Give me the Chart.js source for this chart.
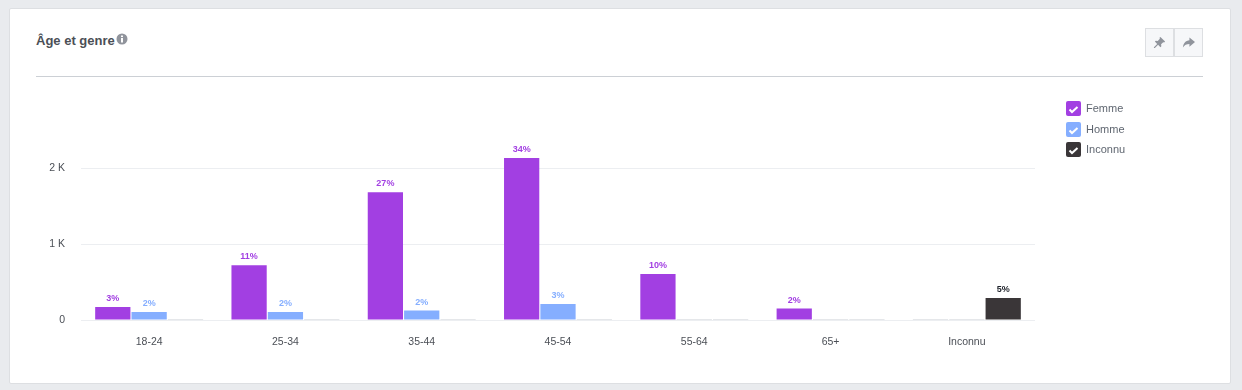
<!DOCTYPE html>
<html lang="fr">
<head>
<meta charset="utf-8">
<title>Âge et genre</title>
<script src="https://cdn.jsdelivr.net/npm/chart.js@4"></script>
<style>
	html, body { margin: 0; height: 100%; background: #e9ebee; overflow: hidden; font-family: "Liberation Sans", Arial, sans-serif; }
	#card { position: absolute; left: 9px; top: 8px; width: 1220px; height: 374px; background: #fff; border: 1px solid #dddfe2; border-radius: 2px; }
	#title { position: absolute; left: 36px; top: 33px; font-size: 13px; font-weight: bold; color: #4b4f56; }
	#info { position: absolute; left: 116px; top: 33px; width: 12px; height: 12px; }
	#line { position: absolute; left: 36px; top: 76px; width: 1167px; height: 1px; background: #ccd0d5; }
	.btn { position: absolute; top: 28px; width: 27px; height: 27px; background: #f6f7f9; border: 1px solid #dddfe2; }
	.btn svg { position: absolute; left: 7px; top: 7px; width: 13px; height: 13px; }
	#canvas_box { position: absolute; left: 0; top: 0; width: 1242px; height: 390px; }
	#legend { position: absolute; left: 1066px; top: 101px; font-size: 11px; color: #5f6670; }
	.item { position: absolute; left: 0; white-space: nowrap; cursor: pointer; }
	.box { position: absolute; left: 0; top: 0; width: 15px; height: 15px; border-radius: 2px; }
	.box svg { position: absolute; left: 2px; top: 3px; width: 11px; height: 10px; }
	.item span { position: absolute; left: 20px; top: 1px; }
</style>
</head>
<body>
<div id="card"></div>
<div id="title">Âge et genre</div>
<svg id="info" viewBox="0 0 12 12"><circle cx="6" cy="6" r="5.5" fill="#90949c"/><rect x="5" y="5" width="2" height="4.5" fill="#fff"/><rect x="5" y="2.5" width="2" height="1.6" fill="#fff"/></svg>
<div id="line"></div>
<div class="btn" style="left:1145px"><svg viewBox="0 0 14 14"><path d="M8 1l5 5-1 1-1-.4-2.300 2.300.3 2.100-1 1-2.500-2.500L2 13l-1 0 0-1 3.500-3.500L2 6l1-1 2.100.3L7.400 3 7 2z" fill="#90949c"/></svg></div>
<div class="btn" style="left:1174px"><svg viewBox="0 0 14 14"><path d="M8 1.500l6 5-6 5V8.500C5 8.500 2.500 9.500 1 12.500 1.200 8 4 4.800 8 4.500z" fill="#90949c"/></svg></div>
<div id="canvas_box"><canvas id="myChart" width="1242" height="390"></canvas></div>
<div id="legend"></div>
<script>
const categories = ['18-24','25-34','35-44','45-54','55-64','65+','Inconnu']
const femme = [170,720,1680,2130,605,150,0]
const homme = [105,105,125,210,0,0,0]
const inconnu = [0,0,0,0,0,0,290]
const femme_pct = ['3%','11%','27%','34%','10%','2%','']
const homme_pct = ['2%','2%','2%','3%','','','']
const inconnu_pct = ['','','','','','','5%']
const y_ticks = [0,1000,2000]
const y_labels = ['0','1 K','2 K']

const font_family = '"Liberation Sans", Arial, sans-serif'
const empty_color = '#ccd0d5'

// percent above each bar
const bar_labels = {
	id: 'bar_labels',
	afterDatasetsDraw(chart) {
		const ctx = chart.ctx
		ctx.save()
		ctx.font = 'bold 9px ' + font_family
		ctx.textAlign = 'center'
		chart.data.datasets.forEach(function(ds, i) {
			if (!chart.isDatasetVisible(i)) return
			ctx.fillStyle = ds.text_color
			chart.getDatasetMeta(i).data.forEach(function(bar, j) {
				ctx.fillText(ds.pct[j], bar.x, bar.y - 6)
			})
		})
		ctx.restore()
	}
}

function make_dataset(label, data, pct, color, text_color) {
	return {
		label: label,
		data: data,
		pct: pct,
		color: color,
		text_color: text_color,
		// empty bars show as a thin grey line
		backgroundColor: data.map(function(v) { return v === 0 ? empty_color : color }),
		minBarLength: 1,
		categoryPercentage: 0.8,
		barPercentage: 0.97
	}
}

const chart = new Chart('myChart', {
	type: 'bar',
	data: {
		labels: categories,
		datasets: [
			make_dataset('Femme', femme, femme_pct, '#a23fe2', '#a23fe2'),
			make_dataset('Homme', homme, homme_pct, '#85aeff', '#85aeff'),
			make_dataset('Inconnu', inconnu, inconnu_pct, '#3a3638', '#1d2129')
		]
	},
	options: {
		responsive: false,
		animation: false,
		layout: { padding: { left: 30, right: 207, top: 130, bottom: 30 } },
		plugins: { legend: { display: false } },
		scales: {
			x: {
				grid: { display: false },
				border: { display: false },
				ticks: { color: '#4b4f56', font: { size: 10.5, family: font_family }, padding: 8, maxRotation: 0 },
				afterFit: function(s) { s.height = 40 }
			},
			y: {
				min: 0,
				max: 2500,
				grid: { color: '#eceef1', drawTicks: false },
				border: { display: false },
				afterBuildTicks: function(s) { s.ticks = y_ticks.map(function(v) { return { value: v } }) },
				ticks: {
					color: '#4b4f56',
					padding: 16,
					font: { size: 10.5, family: font_family },
					callback: function(v) { return y_labels[y_ticks.indexOf(v)] }
				},
				afterFit: function(s) { s.width = 51 }
			}
		}
	},
	plugins: [bar_labels]
})

function create_legend_item(root, ds, i, top) {
	const item = document.createElement('div')
	item.classList.add('item')
	item.style.top = top + 'px'
	item.innerHTML = '<div class="box" style="background:' + ds.color + '"><svg viewBox="0 0 11 10"><path d="M1.500 5.500l2.500 2.500 5.500-5" fill="none" stroke="#fff" stroke-width="2"/></svg></div><span>' + ds.label + '</span>'
	item.onclick = function() {
		chart.setDatasetVisibility(i, !chart.isDatasetVisible(i))
		chart.update()
	}
	root.appendChild(item)
}

const legend = document.getElementById('legend')
const legend_tops = [0,21,41]
chart.data.datasets.forEach(function(ds, i) {
	create_legend_item(legend, ds, i, legend_tops[i])
})
</script>
</body>
</html>
